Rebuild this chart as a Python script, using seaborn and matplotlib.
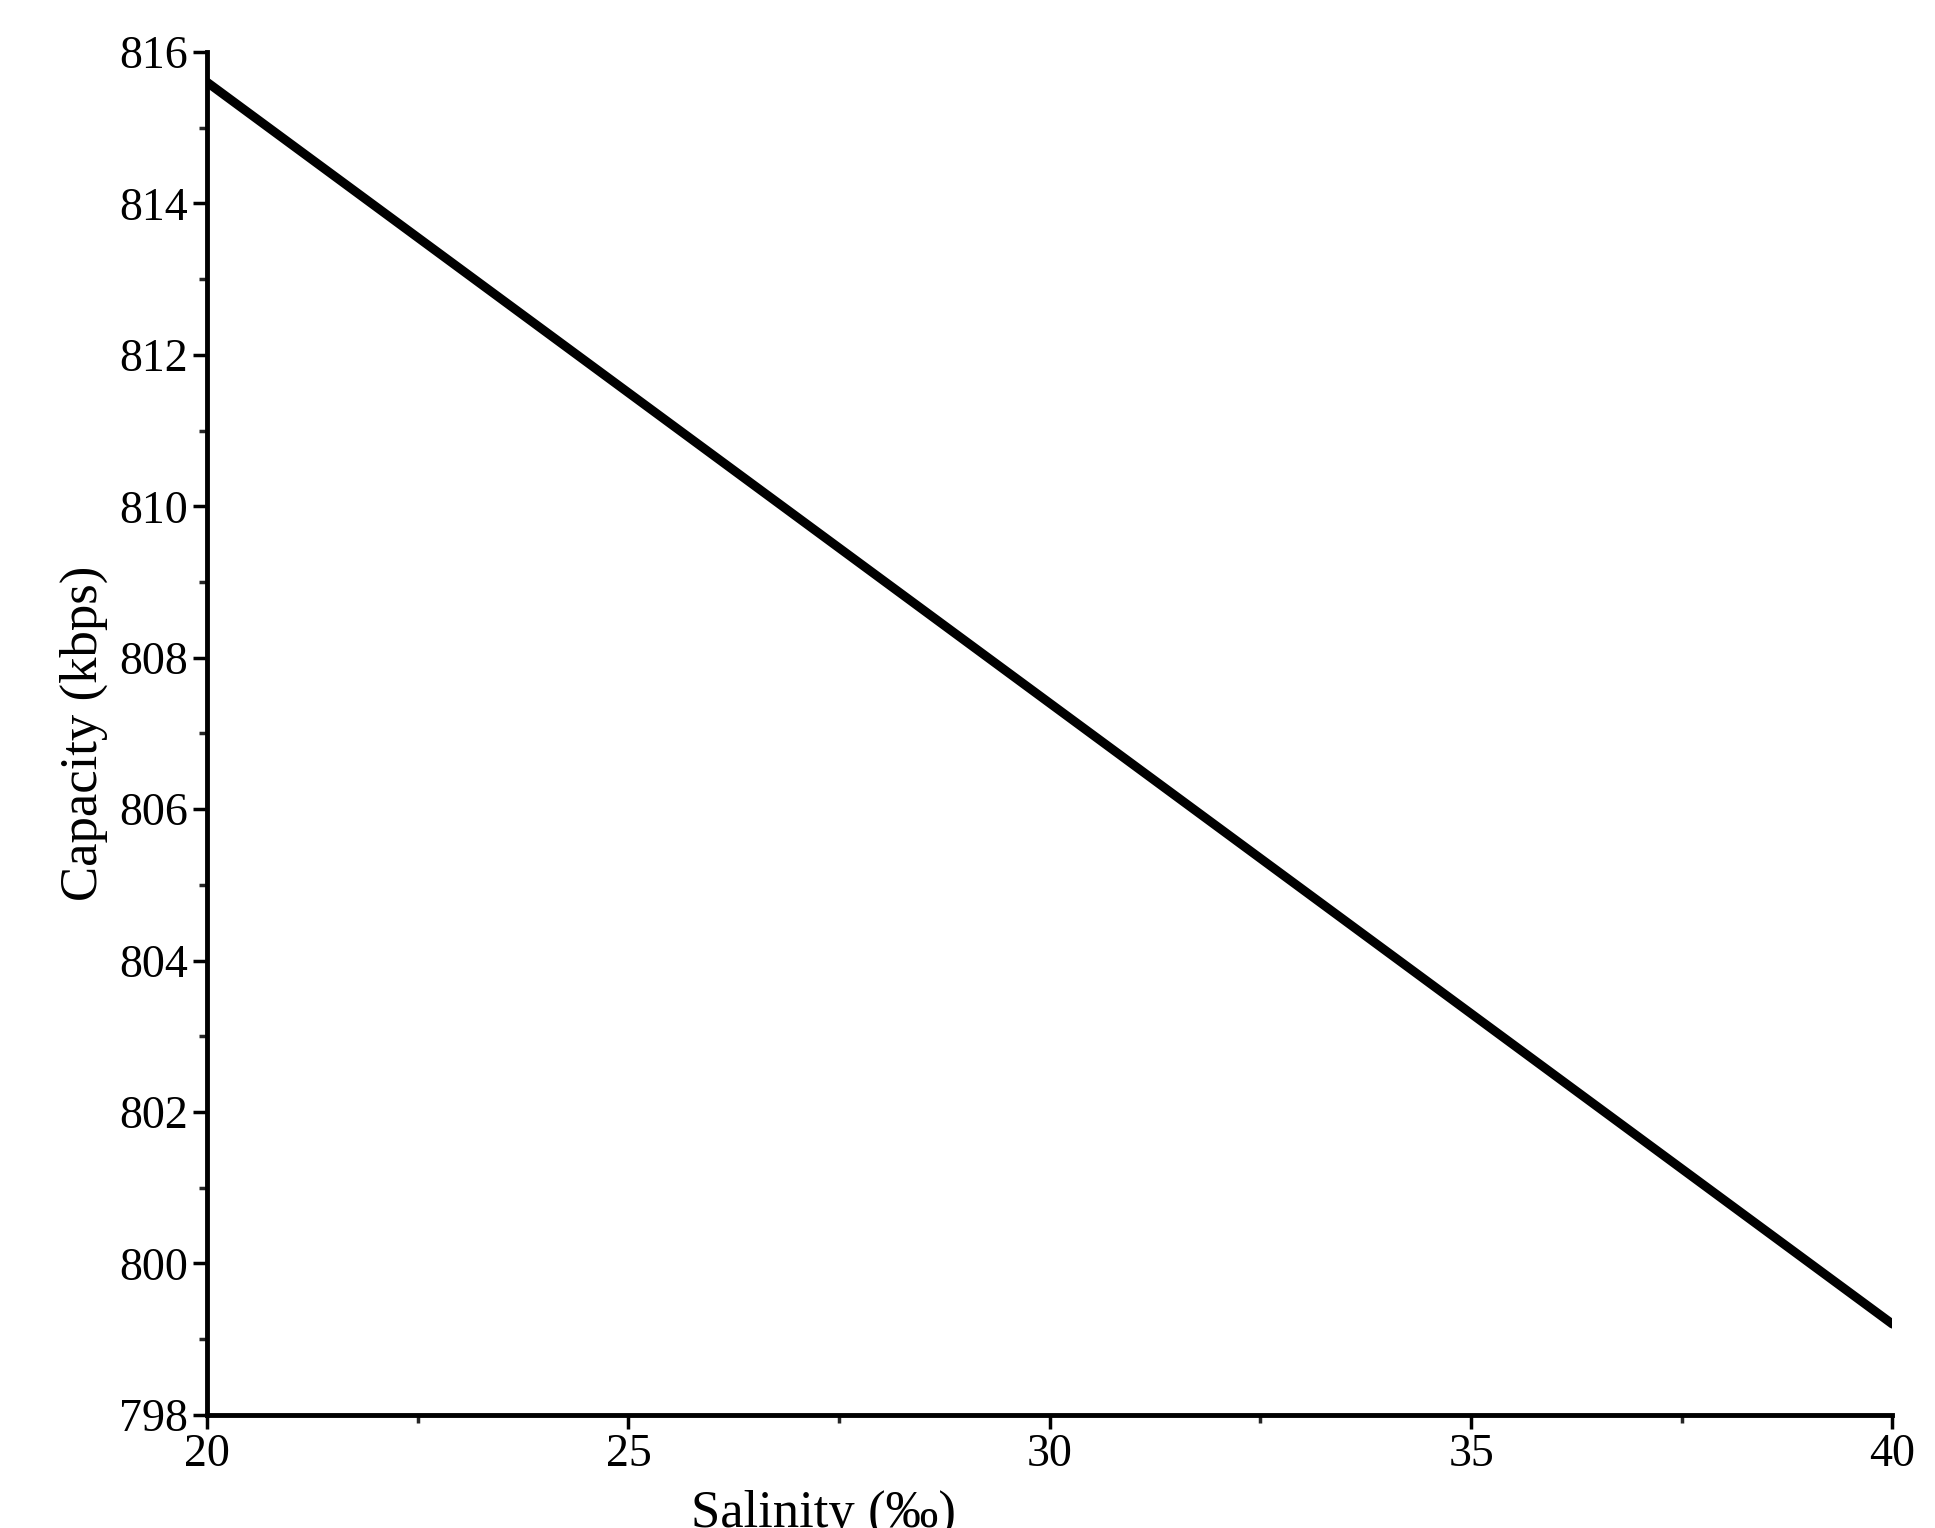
import matplotlib
matplotlib.use("Agg")
import matplotlib.pyplot as plt
import seaborn as sns
import pandas as pd
from matplotlib.ticker import MultipleLocator

salinity = [20, 25, 30, 35, 40]
capacity = [815.6, 811.5, 807.4, 803.3, 799.2]

sns.set_style("ticks")
plt.rcParams['font.family'] = ['Liberation Serif', 'DejaVu Serif']

fig = plt.figure(figsize=(19.35, 15.28), dpi=100)
ax = fig.add_axes([0.107, 0.074, 0.871, 0.892])
df = pd.DataFrame({"s": salinity, "c": capacity})
sns.lineplot(data=df, x="s", y="c", ax=ax, color="black", linewidth=6.5)
ax.set_xlim(20, 40)
ax.set_ylim(798, 816)
ax.xaxis.set_major_locator(MultipleLocator(5))
ax.xaxis.set_minor_locator(MultipleLocator(2.5))
ax.yaxis.set_major_locator(MultipleLocator(2))
ax.yaxis.set_minor_locator(MultipleLocator(1))
for s in ["top", "right"]:
    ax.spines[s].set_visible(False)
for s in ["left", "bottom"]:
    ax.spines[s].set_linewidth(3.5)
    ax.spines[s].set_color("black")
ax.tick_params(which="major", length=10, width=2.5, labelsize=33, colors="black", direction="out")
ax.tick_params(which="minor", length=6, width=2.5, direction="out")
ax.set_xlabel("Salinity (‰)", fontsize=38)
ax.xaxis.set_label_coords(0.366, -0.055)
ax.set_ylabel("Capacity (kbps)", fontsize=38, labelpad=8, color="black")
ax.xaxis.label.set_color("black")
fig.savefig("out.png", dpi=100, facecolor="white")
